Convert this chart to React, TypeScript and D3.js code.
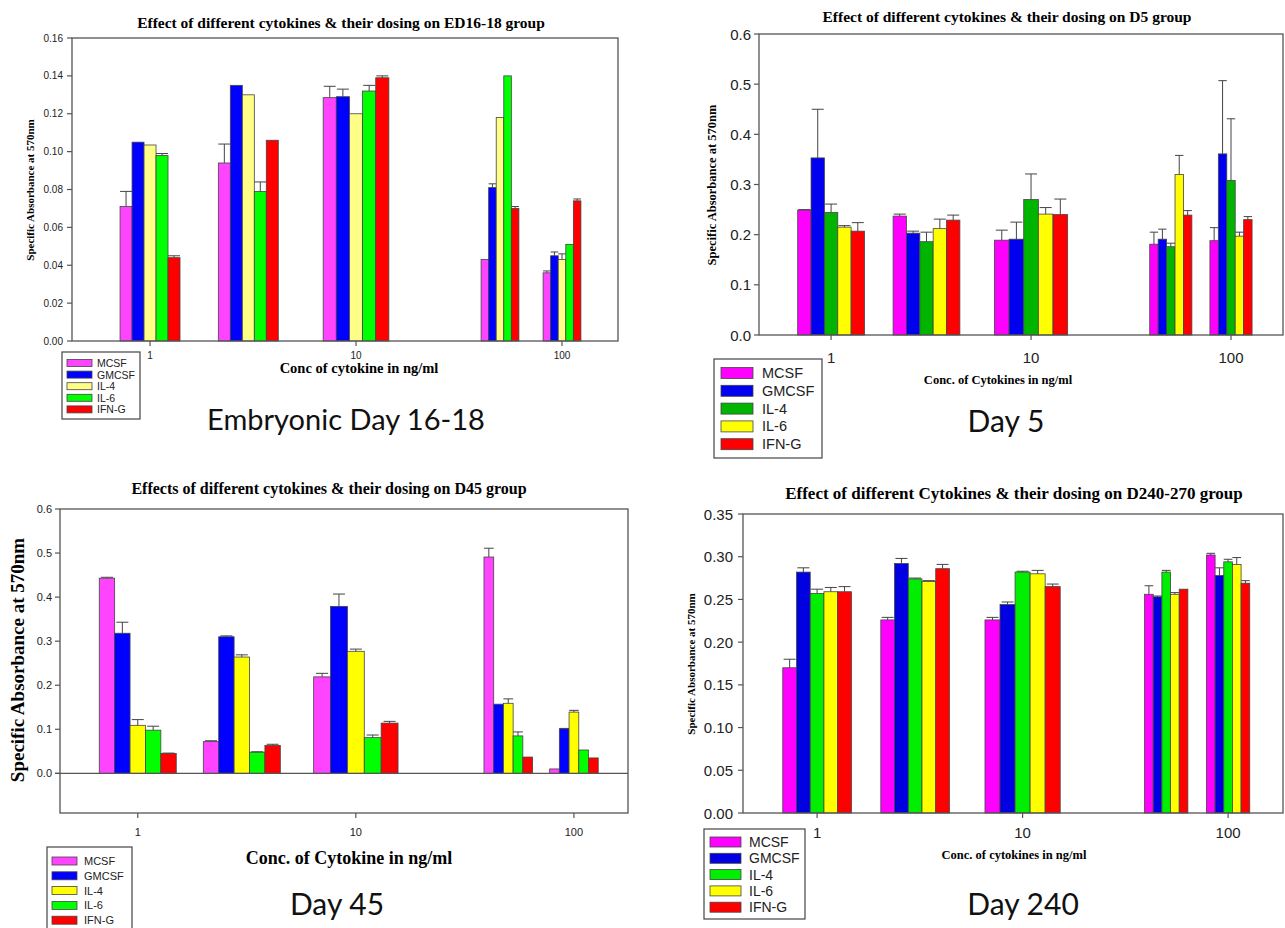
import React from 'react';
import * as d3 from 'd3';

const cytokines = ['MCSF', 'GMCSF', 'IL-4', 'IL-6', 'IFN-G'];
const concentrations = [1, 3, 10, 50, 100];
const xTicks = [1, 10, 100];

// rows follow `cytokines`, columns follow `concentrations`
const ed16Mean = [
  [0.071, 0.094, 0.1285, 0.043, 0.036],
  [0.105, 0.135, 0.129, 0.081, 0.045],
  [0.1035, 0.130, 0.120, 0.118, 0.043],
  [0.098, 0.079, 0.132, 0.140, 0.051],
  [0.044, 0.106, 0.139, 0.070, 0.074]
];
const ed16Sem = [
  [0.008, 0.010, 0.006, 0, 0.001],
  [0, 0, 0.004, 0.002, 0.002],
  [0, 0, 0, 0, 0.003],
  [0.001, 0.005, 0.003, 0, 0],
  [0.001, 0, 0.001, 0.001, 0.001]
];

const d5Mean = [
  [0.249, 0.237, 0.189, 0.181, 0.188],
  [0.353, 0.203, 0.191, 0.191, 0.361],
  [0.244, 0.186, 0.270, 0.176, 0.308],
  [0.215, 0.212, 0.241, 0.320, 0.197],
  [0.207, 0.229, 0.240, 0.239, 0.230]
];
const d5Sem = [
  [0.001, 0.004, 0.020, 0.024, 0.026],
  [0.097, 0.004, 0.034, 0.020, 0.146],
  [0.017, 0.019, 0.051, 0.007, 0.123],
  [0.003, 0.019, 0.013, 0.038, 0.008],
  [0.017, 0.010, 0.031, 0.009, 0.006]
];

const d45Mean = [
  [0.443, 0.072, 0.219, 0.491, 0.010],
  [0.318, 0.310, 0.379, 0.157, 0.101],
  [0.109, 0.264, 0.277, 0.159, 0.139],
  [0.098, 0.048, 0.081, 0.085, 0.053],
  [0.045, 0.063, 0.114, 0.037, 0.035]
];
const d45Sem = [
  [0.002, 0.002, 0.008, 0.020, 0],
  [0.025, 0.002, 0.028, 0, 0.001],
  [0.013, 0.005, 0.005, 0.010, 0.004],
  [0.009, 0.001, 0.006, 0.009, 0],
  [0.001, 0.003, 0.004, 0, 0]
];

const d240Mean = [
  [0.170, 0.226, 0.226, 0.256, 0.302],
  [0.282, 0.292, 0.244, 0.253, 0.278],
  [0.257, 0.274, 0.282, 0.282, 0.294],
  [0.259, 0.271, 0.280, 0.256, 0.291],
  [0.259, 0.286, 0.265, 0.262, 0.269]
];
const d240Sem = [
  [0.010, 0.003, 0.003, 0.010, 0.002],
  [0.005, 0.006, 0.003, 0.001, 0.009],
  [0.005, 0.001, 0.001, 0.002, 0.003],
  [0.005, 0.001, 0.004, 0.002, 0.008],
  [0.006, 0.005, 0.003, 0, 0.003]
];

const ed16Ticks = [0, 0.02, 0.04, 0.06, 0.08, 0.1, 0.12, 0.14, 0.16];
const d5Ticks = [0, 0.1, 0.2, 0.3, 0.4, 0.5, 0.6];
const d45Ticks = [0, 0.1, 0.2, 0.3, 0.4, 0.5, 0.6];
const d240Ticks = [0, 0.05, 0.1, 0.15, 0.2, 0.25, 0.3, 0.35];

const SERIF = '"Liberation Serif", "Times New Roman", serif';
const SANS = '"Liberation Sans", Arial, sans-serif';
const NARROW = '"Liberation Sans Narrow", "Liberation Sans", Arial, sans-serif';
const CAPTION = 'Lato, "Open Sans", sans-serif';
const AXIS = '#555';

type Legend = { x: number; y: number; w: number; h: number; sx: number; sw: number; sh: number; row0: number; step: number; tx: number; fs: number };

type PanelProps = {
  mean: number[][];
  sem: number[][];
  colors: string[];
  xDomain: [number, number];
  yDomain: [number, number];
  yTicks: number[];
  yFormat: string;
  left: number; right: number; top: number; bottom: number;
  groupFrac: number;
  tickFont: string; tickSize: number; yLabelGap: number; xLabelDy: number;
  title: string; titleX: number; titleY: number; titleSize: number;
  xTitle: string; xTitleX: number; xTitleY: number; xTitleSize: number;
  yTitleX: number; yTitleY: number; yTitleSize: number;
  caption: string; capX: number; capY: number; capSize: number;
  legend: Legend;
  zeroLine?: boolean;
};

function Panel(p: PanelProps) {
  const x = d3.scaleLog().domain(p.xDomain).range([p.left, p.right]);
  const y = d3.scaleLinear().domain(p.yDomain).range([p.bottom, p.top]);
  const fmt = d3.format(p.yFormat);
  const px = concentrations.map(c => x(c));
  const groups = concentrations.map((c, i) => {
    const d = [];
    if (i > 0) d.push(px[i] - px[i - 1]);
    if (i < px.length - 1) d.push(px[i + 1] - px[i]);
    const gw = p.groupFrac * (d3.min(d) as number);
    return { cx: px[i], gw, bw: gw / cytokines.length };
  });
  const y0 = y(0);
  const L = p.legend;

  return (
    <g>
      <text x={p.titleX} y={p.titleY} textAnchor="middle" dominantBaseline="central"
        fontFamily={SERIF} fontWeight="bold" fontSize={p.titleSize}>{p.title}</text>

      {/* bars */}
      {groups.map((g, i) => cytokines.map((_, j) => {
        const v = p.mean[j][i];
        const e = p.sem[j][i];
        const bx = g.cx - g.gw / 2 + j * g.bw;
        const cap = Math.min(g.bw, 12);
        const mid = bx + g.bw / 2;
        return (
          <g key={`${i}-${j}`}>
            <rect x={bx} y={y(v)} width={g.bw} height={y0 - y(v)} fill={p.colors[j]}
              stroke="#444" strokeWidth={0.8} />
            {e > 0 && (
              <g stroke="#444" strokeWidth={1}>
                <line x1={mid} x2={mid} y1={y(v)} y2={y(v + e)} />
                <line x1={mid - cap / 2} x2={mid + cap / 2} y1={y(v + e)} y2={y(v + e)} />
              </g>
            )}
          </g>
        );
      }))}

      {p.zeroLine && (
        <line x1={p.left - 5} x2={p.right} y1={y0} y2={y0} stroke={AXIS} strokeWidth={1.2} />
      )}

      <rect x={p.left} y={p.top} width={p.right - p.left} height={p.bottom - p.top}
        fill="none" stroke={AXIS} strokeWidth={1.3} />

      {/* y axis */}
      {p.yTicks.map(t => (
        <g key={t}>
          <line x1={p.left - 5} x2={p.left} y1={y(t)} y2={y(t)} stroke={AXIS} strokeWidth={1.2} />
          <text x={p.left - p.yLabelGap} y={y(t)} textAnchor="end" dominantBaseline="central"
            fontFamily={p.tickFont} fontSize={p.tickSize} fill="#222">{fmt(t)}</text>
        </g>
      ))}

      {/* x axis */}
      {xTicks.map(t => (
        <g key={t}>
          <line x1={x(t)} x2={x(t)} y1={p.bottom} y2={p.bottom + 5} stroke={AXIS} strokeWidth={1.2} />
          <text x={x(t)} y={p.bottom + p.xLabelDy} textAnchor="middle" dominantBaseline="central"
            fontFamily={p.tickFont} fontSize={p.tickSize} fill="#222">{t}</text>
        </g>
      ))}

      <text x={p.xTitleX} y={p.xTitleY} textAnchor="middle" dominantBaseline="central"
        fontFamily={SERIF} fontWeight="bold" fontSize={p.xTitleSize}>{p.xTitle}</text>
      <text transform={`translate(${p.yTitleX},${p.yTitleY}) rotate(-90)`} textAnchor="middle"
        dominantBaseline="central" fontFamily={SERIF} fontWeight="bold" fontSize={p.yTitleSize}>
        Specific Absorbance at 570nm
      </text>

      {/* legend */}
      <rect x={L.x} y={L.y} width={L.w} height={L.h} fill="#fff" stroke="#444" strokeWidth={1.2} />
      {cytokines.map((c, j) => (
        <g key={c}>
          <rect x={L.sx} y={L.row0 + j * L.step - L.sh / 2} width={L.sw} height={L.sh}
            fill={p.colors[j]} stroke="#444" strokeWidth={0.8} />
          <text x={L.tx} y={L.row0 + j * L.step} dominantBaseline="central" fontFamily={p.tickFont}
            fontSize={L.fs} fill="#222">{c}</text>
        </g>
      ))}

      <text x={p.capX} y={p.capY} textAnchor="middle" dominantBaseline="central"
        fontFamily={CAPTION} fontSize={p.capSize} fill="#111">{p.caption}</text>
    </g>
  );
}

export default function App() {
  return (
    <svg width={1285} height={928} style={{ position: 'absolute', left: 0, top: 0, background: '#fff' }}>
      <Panel
        mean={ed16Mean} sem={ed16Sem}
        colors={['#ff44ff', '#0000ff', '#ffff88', '#00ff00', '#ff0000']}
        xDomain={[0.418, 187]} yDomain={[0, 0.16]} yTicks={ed16Ticks} yFormat=".2f"
        left={72} right={618} top={38} bottom={341} groupFrac={0.61}
        tickFont={SANS} tickSize={10} yLabelGap={9} xLabelDy={14}
        title="Effect of different cytokines & their dosing on ED16-18 group" titleX={341} titleY={22} titleSize={15.5}
        xTitle="Conc of cytokine in ng/ml" xTitleX={359} xTitleY={368} xTitleSize={14.5}
        yTitleX={30} yTitleY={190} yTitleSize={11}
        caption="Embryonic Day 16-18" capX={346} capY={418} capSize={29}
        legend={{ x: 62, y: 352, w: 78, h: 67, sx: 67, sw: 25, sh: 7, row0: 363, step: 11.6, tx: 97, fs: 10.5 }}
      />
      <Panel
        mean={d5Mean} sem={d5Sem}
        colors={['#ff00ff', '#0000f0', '#00b400', '#ffff00', '#ff0000']}
        xDomain={[0.436, 182]} yDomain={[0, 0.6]} yTicks={d5Ticks} yFormat=".1f"
        left={759} right={1283} top={34} bottom={335} groupFrac={0.70}
        tickFont={SANS} tickSize={15} yLabelGap={8} xLabelDy={22}
        title="Effect of different cytokines & their dosing on D5 group" titleX={1007} titleY={16} titleSize={15.5}
        xTitle="Conc. of Cytokines in ng/ml" xTitleX={998} xTitleY={380} xTitleSize={12.5}
        yTitleX={712} yTitleY={185} yTitleSize={12.5}
        caption="Day 5" capX={1006} capY={420} capSize={30}
        legend={{ x: 714, y: 359, w: 108, h: 99, sx: 721, sw: 32, sh: 11, row0: 373, step: 17.8, tx: 762, fs: 14.5 }}
      />
      <Panel
        mean={d45Mean} sem={d45Sem}
        colors={['#ff44ff', '#0000ff', '#ffff00', '#00ff00', '#ff0000']}
        xDomain={[0.44, 177]} yDomain={[-0.09, 0.6]} yTicks={d45Ticks} yFormat=".1f"
        left={60} right={628} top={509} bottom={813} groupFrac={0.74}
        tickFont={NARROW} tickSize={11} yLabelGap={8} xLabelDy={19}
        title="Effects of different cytokines & their dosing on D45 group" titleX={329} titleY={488} titleSize={16}
        xTitle="Conc. of Cytokine in ng/ml" xTitleX={349} xTitleY={858} xTitleSize={18}
        yTitleX={17} yTitleY={660} yTitleSize={19}
        caption="Day 45" capX={337} capY={903} capSize={30}
        legend={{ x: 47, y: 847, w: 85, h: 90, sx: 52, sw: 25, sh: 8, row0: 861, step: 14.8, tx: 84, fs: 11 }}
        zeroLine
      />
      <Panel
        mean={d240Mean} sem={d240Sem}
        colors={['#ff00ff', '#0000e0', '#00ee00', '#ffff00', '#ff0000']}
        xDomain={[0.436, 185]} yDomain={[0, 0.35]} yTicks={d240Ticks} yFormat=".2f"
        left={743} right={1283} top={514} bottom={813} groupFrac={0.70}
        tickFont={SANS} tickSize={15} yLabelGap={10} xLabelDy={19}
        title="Effect of different Cytokines & their dosing on D240-270 group" titleX={1014} titleY={493} titleSize={17}
        xTitle="Conc. of cytokines in ng/ml" xTitleX={1014} xTitleY={855} xTitleSize={12.5}
        yTitleX={691} yTitleY={664} yTitleSize={11}
        caption="Day 240" capX={1023} capY={903} capSize={30}
        legend={{ x: 704, y: 829, w: 101, h: 90, sx: 710, sw: 31, sh: 10, row0: 842, step: 16.3, tx: 749, fs: 14 }}
      />
    </svg>
  );
}
